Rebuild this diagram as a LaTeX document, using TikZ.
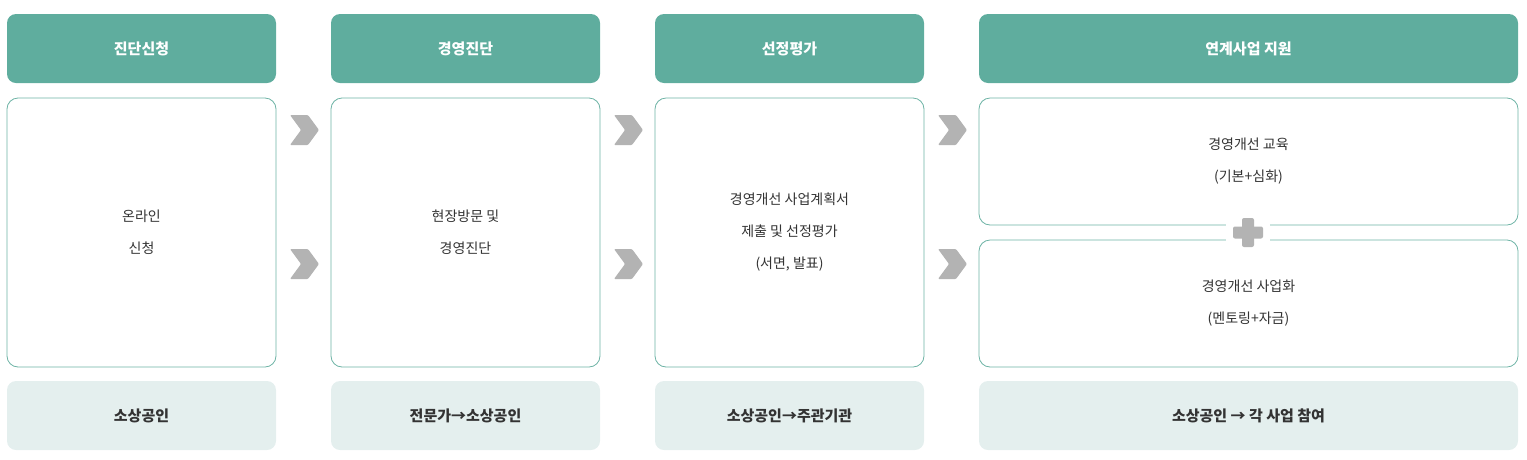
\documentclass[tikz,border=0pt]{standalone}
\usepackage{fontspec}
\setmainfont{Noto Sans CJK KR}
\newfontfamily\kb{Noto Sans CJK KR Bold}
\definecolor{teal1}{HTML}{5FAD9E}
\definecolor{foot}{HTML}{E4EFEE}
\definecolor{bord}{HTML}{6DB3A5}
\definecolor{chev}{HTML}{B3B3B3}
\definecolor{txt}{HTML}{333333}
\begin{document}
\begin{tikzpicture}[x=1pt,y=-1pt,
 hdr/.style={fill=teal1,rounded corners=9pt,text=white,font=\fontsize{15}{18}\selectfont\bfseries},
 bodybox/.style={draw=bord,line width=0.8pt,fill=white,rounded corners=11pt,text=txt,align=center,font=\fontsize{14}{28}\selectfont},
 ftr/.style={fill=foot,rounded corners=9pt,text=txt!90!black,font=\fontsize{15}{18}\selectfont\bfseries},
 chevron/.style={fill=chev}]
\useasboundingbox (0,0) rectangle (1527,459);
% headers
\foreach \x/\w/\t/\n in {7/269/진단신청/h1,331/269/경영진단/h2,655/269/선정평가/h3,979/539/연계사업 지원/h4}{
 \path[hdr] (\x,14) rectangle ++(\w,69);
 \node[text=white,font=\fontsize{15}{18}\selectfont\bfseries] (\n) at (\x+\w/2,48.5) {\t};
}
\foreach \x/\w/\t/\n in {7/269/소상공인/f1,331/269/전문가→소상공인/f2,655/269/소상공인→주관기관/f3,979/539/소상공인 → 각 사업 참여/f4}{
 \path[ftr] (\x,381) rectangle ++(\w,69);
 \node[text=txt,font=\fontsize{15}{18}\selectfont\bfseries] (\n) at (\x+\w/2,415.5) {\t};
}
% bodies
\draw[bodybox] (7,98) rectangle (276,367);
\node[text=txt,align=center,font=\fontsize{14}{32}\selectfont] (b1) at (141.5,232) {온라인\\신청};
\draw[bodybox] (331,98) rectangle (600,367);
\node[text=txt,align=center,font=\fontsize{14}{32}\selectfont] (b2) at (465.5,232) {현장방문 및\\경영진단};
\draw[bodybox] (655,98) rectangle (924,367);
\node[text=txt,align=center,font=\fontsize{14}{32}\selectfont] (b3) at (789.5,232) {경영개선 사업계획서\\제출 및 선정평가\\(서면, 발표)};
\draw[bodybox] (979,98) rectangle (1518,225);
\node[text=txt,align=center,font=\fontsize{14}{32}\selectfont] (b4) at (1248.5,161) {경영개선 교육\\(기본+심화)};
\draw[bodybox] (979,240) rectangle (1518,367);
\node[text=txt,align=center,font=\fontsize{14}{32}\selectfont] (b5) at (1248.5,303) {경영개선 사업화\\(멘토링+자금)};
% plus
\fill[white] (1226,216) rectangle (1270,249);
\fill[chev,rounded corners=2pt] (1242,218) rectangle (1254,247);
\fill[chev,rounded corners=2pt] (1233,226.5) rectangle (1263,238.5);
% chevrons
\foreach \x in {290,614,938}{
 \foreach \y in {115,249}{
  \fill[chev,rounded corners=1pt] (\x,\y) -- ++(18,0) -- ++(11,15) -- ++(-11,15) -- ++(-18,0) -- ++(11,-15) -- cycle;
 }
}
\end{tikzpicture}
\end{document}
